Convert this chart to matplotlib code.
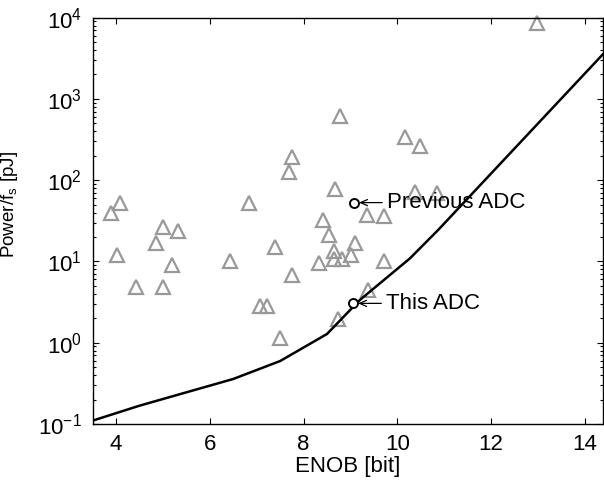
import matplotlib
matplotlib.use('Agg')
import matplotlib.pyplot as plt
import numpy as np

plt.rcParams['font.family'] = ['Liberation Sans', 'DejaVu Sans']
plt.rcParams['mathtext.fontset'] = 'custom'
plt.rcParams['mathtext.rm'] = 'Liberation Sans'
plt.rcParams['mathtext.it'] = 'Liberation Sans'
plt.rcParams['mathtext.bf'] = 'Liberation Sans:bold'

# published ADCs (ENOB, energy per sample)
survey_enob = [3.88, 4.09, 4.02, 4.43, 4.86, 5.01, 5.01, 5.19, 5.33, 6.42,
               6.83, 7.07, 7.21, 7.39, 7.50, 7.70, 7.75, 7.75, 8.34, 8.41,
               8.55, 8.64, 8.64, 8.67, 8.74, 8.78, 8.82, 9.01, 9.10, 9.35,
               9.38, 9.72, 9.72, 10.16, 10.38, 10.48, 10.84, 12.98]
survey_energy = [39, 52, 12, 4.8, 17, 26.7, 4.8, 9.0, 23.7, 10.1,
                 52, 2.83, 2.83, 14.9, 1.13, 127, 194, 6.8, 9.6, 32,
                 21, 13.4, 10.6, 77, 1.94, 620, 10.6, 12, 17, 37,
                 4.5, 36, 10.2, 342, 72, 262, 70, 8630]

# lower bound curve
bound_enob = [3.5, 4.5, 6.5, 7.5, 8.5, 9.2, 10.27, 10.87, 14.4]
bound_energy = [0.11, 0.168, 0.358, 0.595, 1.28, 3.35, 10.9, 24.3, 3600]

labels = ['Previous ADC', 'This ADC']
label_enob = [9.08, 9.06]
label_energy = [53, 3.05]

fig = plt.figure(figsize=(6.04, 4.83), dpi=100)
ax = fig.add_axes([0.1535, 0.1222, 0.8455, 0.8412])

ax.plot(survey_enob, survey_energy, '^', ms=10, mfc='none', mec='#999999',
        mew=1.6, clip_on=False, zorder=2)
ax.plot(bound_enob, bound_energy, 'k-', lw=1.8, zorder=3)
ax.plot(label_enob, label_energy, 'o', ms=6.5, mfc='white', mec='black',
        mew=1.4, zorder=4)

for name, x, y in zip(labels, label_enob, label_energy):
    ax.annotate('', xy=(x, y), xytext=(x + 0.6, y),
                arrowprops=dict(arrowstyle='->,head_length=0.5,head_width=0.22',
                                lw=0.9, color='black', shrinkA=0, shrinkB=3.5))
    ax.text(x + 0.7, y, name, fontsize=16, va='center', ha='left')

ax.set_yscale('log')
ax.set_xlim(3.5, 14.4)
ax.set_ylim(0.1, 1e4)
ax.set_xticks([4, 6, 8, 10, 12, 14])
ax.tick_params(which='both', direction='in', top=True, right=True,
               labelsize=16, width=0.8)
ax.tick_params(which='major', length=4.5)
ax.tick_params(axis='x', which='major', pad=7)
ax.tick_params(axis='y', which='major', pad=8)
ax.tick_params(which='minor', length=2.5)
for s in ax.spines.values():
    s.set_linewidth(1.0)

ax.set_xlabel('ENOB [bit]', fontsize=16, labelpad=1)
ax.set_ylabel(r'Power/f$_\mathrm{s}$ [pJ]', fontsize=13.5)
ax.yaxis.set_label_coords(-0.142, 0.54)

fig.savefig('out.png', dpi=100)
